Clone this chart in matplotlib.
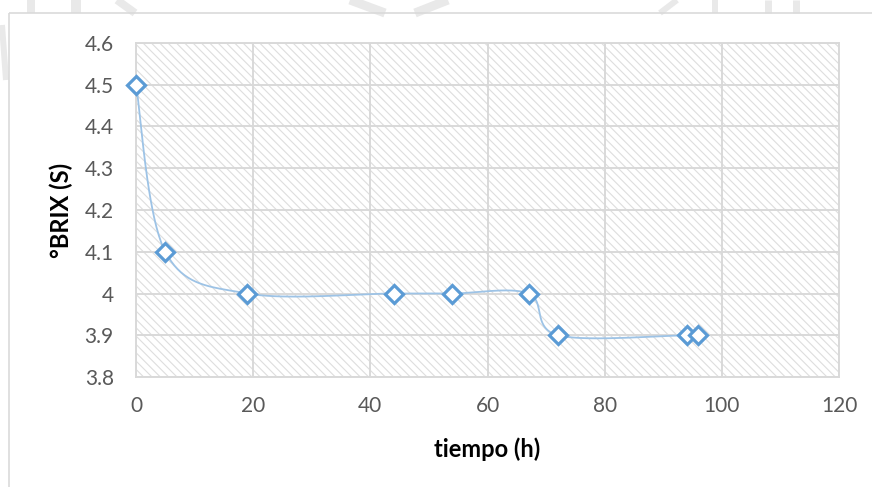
import numpy as np
import matplotlib
matplotlib.use("Agg")
import matplotlib.pyplot as plt
from matplotlib.patches import Rectangle
from matplotlib.lines import Line2D

# sampling times and sugar content
tiempo = [0, 5, 19, 44, 54, 67, 72, 94, 96]
brix = [4.5, 4.1, 4.0, 4.0, 4.0, 4.0, 3.9, 3.9, 3.9]
x_ticks = [0, 20, 40, 60, 80, 100, 120]
y_ticks = [3.8, 3.9, 4.0, 4.1, 4.2, 4.3, 4.4, 4.5, 4.6]
y_tick_labels = ["3.8", "3.9", "4", "4.1", "4.2", "4.3", "4.4", "4.5", "4.6"]


def smooth_curve(xs, ys, sx, sy, n=40):
    # bezier smoothing like a spreadsheet "smoothed line", done in screen-ish units
    px = np.asarray(xs, float) * sx
    py = np.asarray(ys, float) * sy
    pts = np.column_stack([px, py])
    out = []
    for i in range(len(pts) - 1):
        p0 = pts[i - 1] if i > 0 else pts[i]
        p1 = pts[i]
        p2 = pts[i + 1]
        p3 = pts[i + 2] if i + 2 < len(pts) else pts[i + 1]
        c1 = p1 + (p2 - p0) / 6.0
        c2 = p2 - (p3 - p1) / 6.0
        t = np.linspace(0, 1, n)[:, None]
        seg = ((1 - t) ** 3) * p1 + 3 * ((1 - t) ** 2) * t * c1 + 3 * (1 - t) * t ** 2 * c2 + t ** 3 * p2
        out.append(seg if i == 0 else seg[1:])
    seg = np.vstack(out)
    return seg[:, 0] / sx, seg[:, 1] / sy


plt.rcParams["font.family"] = ["Lato", "DejaVu Sans"]
plt.rcParams["hatch.linewidth"] = 0.8

W, H = 872, 487
fig = plt.figure(figsize=(W / 100, H / 100), dpi=100)
ax = fig.add_axes([136 / W, 1 - 377 / H, (839 - 136) / W, (377 - 43) / H])


def px_line(x0, y0, x1, y1, width, color):
    # line given in pixel positions measured from the top-left corner
    fig.add_artist(Line2D([x0 / W, x1 / W], [1 - y0 / H, 1 - y1 / H],
                          transform=fig.transFigure, color=color,
                          lw=width / 1.389, solid_capstyle="butt", zorder=0))


# faint page watermark showing above the chart frame
for seg in [(2, 25, 6, 80, 6), (31, 0, 31, 13, 8), (76, 0, 76, 13, 10),
            (117, 0, 135, 13, 8), (350, 0, 385, 13, 9), (448, 0, 415, 13, 9),
            (660, 13, 677, 0, 6), (715, 0, 715, 13, 6), (768, 0, 768, 13, 7),
            (796, 0, 796, 13, 7)]:
    px_line(*seg, color="#e9e9e9")

# chart frame (left and top edges)
px_line(9, 13, 9, H, 1.6, "#d9d9d9")
px_line(9, 13, W, 13, 1.6, "#d9d9d9")

# hatched plot area
ax.patch.set_facecolor("white")
ax.add_patch(Rectangle((0, 0), 1, 1, transform=ax.transAxes, facecolor="white",
                       edgecolor="#dedede", hatch="\\\\\\\\", lw=0, zorder=0))

ax.set_xlim(0, 120)
ax.set_ylim(3.8, 4.6)
ax.set_xticks(x_ticks)
ax.set_yticks(y_ticks)
ax.set_yticklabels(y_tick_labels)
ax.set_axisbelow(True)
ax.grid(True, color="#d9d9d9", lw=1.4)
for s in ax.spines.values():
    s.set_color("#d9d9d9")
    s.set_linewidth(1.4)
ax.tick_params(length=0, labelsize=15, labelcolor="#595959")
ax.tick_params(axis="x", pad=14)
ax.tick_params(axis="y", pad=16)

sx = 703 / 120.0
sy = 334 / 0.8
cx, cy = smooth_curve(tiempo, brix, sx, sy)
ax.plot(cx, cy, color="#9dc3e6", lw=1.3, zorder=3, clip_on=False)
ax.plot(tiempo, brix, ls="none", marker="D", ms=9, mfc="white", mec="#5b9bd5",
        mew=2.3, zorder=4, clip_on=False)

fig.text(487.5 / W, 1 - 449 / H, "tiempo (h)", fontsize=17, fontweight="bold",
         ha="center", va="center")
fig.text(61 / W, 1 - 210 / H, "°BRIX (S)", fontsize=17, fontweight="bold",
         ha="center", va="center", rotation=90)

fig.savefig("out.png", dpi=100)
